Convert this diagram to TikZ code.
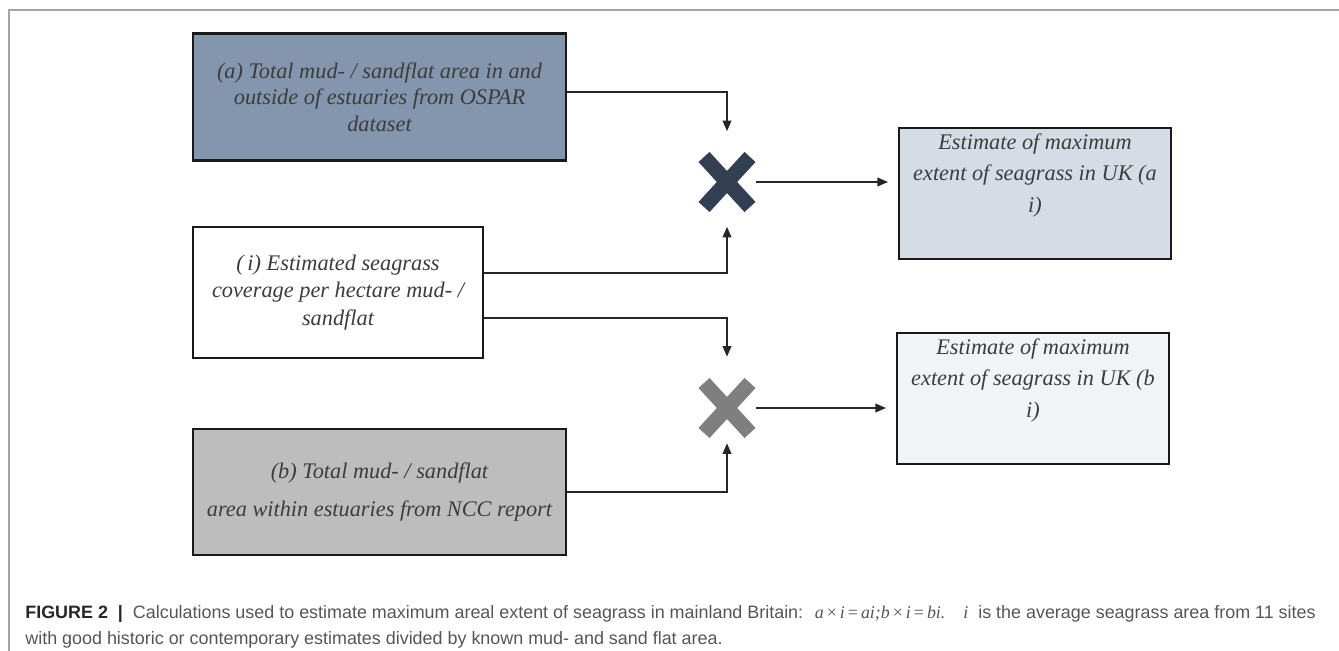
\documentclass[tikz,border=0pt]{standalone}
\usepackage{fontspec}
\setmainfont{Liberation Serif}
\newfontfamily\capfont{Liberation Sans}
\usetikzlibrary{calc,arrows.meta}
\definecolor{boxablue}{HTML}{8396AE}
\definecolor{boxbgray}{HTML}{BEBDBD}
\definecolor{resablue}{HTML}{D6DCE5}
\definecolor{resbgray}{HTML}{F2F3F4}
\definecolor{crossdark}{HTML}{323F52}
\definecolor{crossgray}{HTML}{7F7F7F}
\definecolor{boxtext}{HTML}{3C3C3C}
\definecolor{capgray}{HTML}{555555}
\definecolor{capdark}{HTML}{262626}
\definecolor{framegray}{HTML}{A3A3A3}
\def\crossmark[#1](#2){\draw[#1] ($(#2)+(-23,-25)$) -- ($(#2)+(23,25)$); \draw[#1] ($(#2)+(-23,25)$) -- ($(#2)+(23,-25)$);}

\begin{document}
\begin{tikzpicture}[x=0.02cm, y=-0.02cm,
	srcbox/.style={draw=black!90, line width=1.2pt, inner sep=0pt, align=center, text=boxtext, font=\fontsize{12.7}{15}\selectfont\itshape},
	resbox/.style={srcbox, minimum width=5.44cm, minimum height=2.62cm, font=\fontsize{12.7}{18}\selectfont\itshape},
	xmark/.style={inner sep=0pt, minimum width=1.14cm, minimum height=1.22cm},
	xbar/.style={line width=8.5pt},
	conn/.style={draw=black!85, line width=0.7pt, -{Triangle[length=6pt,width=5pt]}}]
		%%%%% START %%%%%
		
		\useasboundingbox (0,0) rectangle (1339,651);
		\draw[line width=0.85pt, color=framegray] (1339,10) -- (9,10) -- (9,651);
		
		\node[srcbox, fill=boxablue, minimum width=7.46cm, minimum height=2.54cm] (boxa) at (379.5,97) {(a) Total mud- / sandflat area in and\\outside of estuaries from OSPAR\\dataset};
		\node[srcbox, fill=white, minimum width=5.8cm, minimum height=2.62cm, font=\fontsize{12.7}{15.6}\selectfont\itshape] (boxi) at (338,292.5) {(\,i) Estimated seagrass\\coverage per hectare mud- /\\sandflat};
		\node[srcbox, fill=boxbgray, minimum width=7.46cm, minimum height=2.52cm, font=\fontsize{12.7}{22}\selectfont\itshape] (boxb) at (379.5,492) {(b) Total mud- / sandflat\\area within estuaries from NCC report};
		
		\node[xmark] (crossa) at (727,182) {};
		\node[xmark] (crossb) at (727,408) {};
		\crossmark[xbar, color=crossdark](crossa);
		\crossmark[xbar, color=crossgray](crossb);
		
		\node[resbox, fill=resablue] (resa) at (1035,193.5) {Estimate of maximum\\extent of seagrass in UK (a\\i)\\\strut};
		\node[resbox, fill=resbgray] (resb) at (1033,398.5) {Estimate of maximum\\extent of seagrass in UK (b\\i)\\\strut};
		
		\draw[conn, shorten >=0.4cm] ([yshift=0.1cm]boxa.east) -| (crossa.north);
		\draw[conn, shorten >=0.28cm] ([yshift=0.39cm]boxi.east) -| (crossa.south);
		\draw[conn, shorten >=0.41cm] ([yshift=-0.51cm]boxi.east) -| (crossb.north);
		\draw[conn, shorten >=0.09cm] (boxb.east) -| (crossb.south);
		\draw[conn, shorten >=0.2cm] (crossa.east) -- (crossa.east -| resa.west);
		\draw[conn, shorten >=0.2cm] (crossb.east) -- (crossb.east -| resb.west);
		
		\node[anchor=north west, inner sep=0pt, align=left, text=capgray, font=\capfont\fontsize{10.2}{14.8}\selectfont] (caption) at (25,605) {{\color{capdark}\bfseries FIGURE 2 \ | }\ Calculations used to estimate maximum areal extent of seagrass in mainland Britain: \ {\rmfamily\itshape a\,{\upshape ×}\,i\,{\upshape =}\,ai;b\,{\upshape ×}\,i\,{\upshape =}\,bi.}\hspace{1em}{\rmfamily\itshape i}\ \ is the average seagrass area from 11 sites\\with good historic or contemporary estimates divided by known mud- and sand flat area.};
		
		%%%%% END %%%%%
	\end{tikzpicture}
\end{document}
